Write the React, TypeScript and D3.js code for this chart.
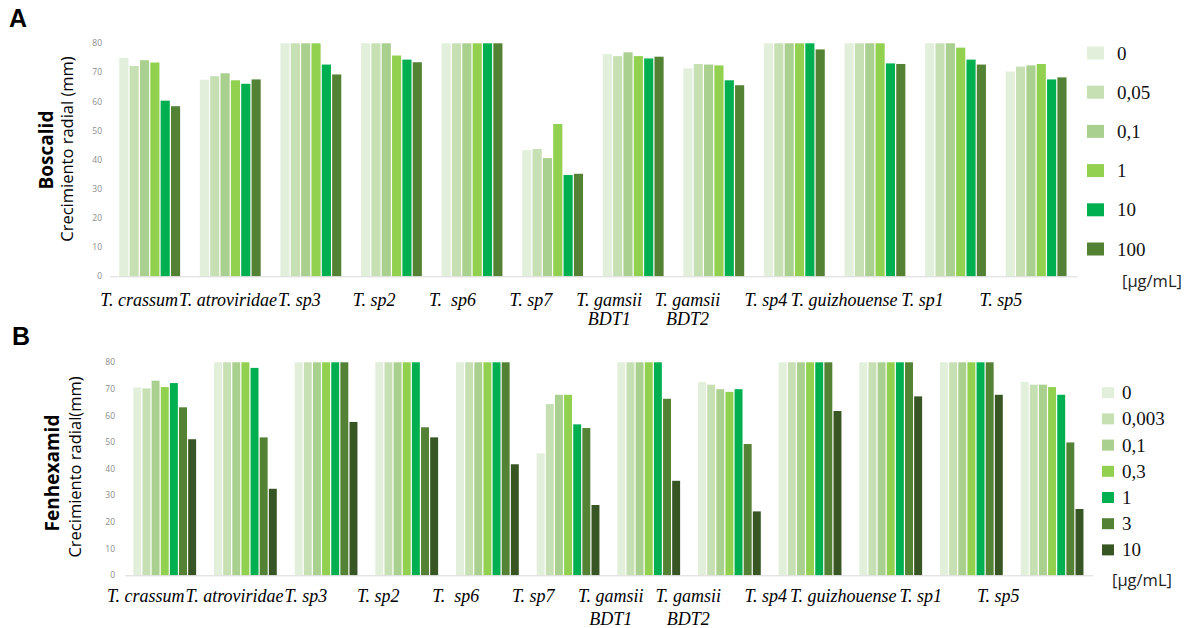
import React, { useRef, useEffect } from "react";
import * as d3 from "d3";

// strains (x categories), same for both panels
const strains = [
  "T. crassum", "T. atroviridae", "T. sp3", "T. sp2", "T.  sp6", "T. sp7",
  "T. gamsii\nBDT1", "T. gamsii\nBDT2", "T. sp4", "T. guizhouense", "T. sp1", "T. sp5",
];
const yTicks = [0, 10, 20, 30, 40, 50, 60, 70, 80];

// Boscalid doses [µg/mL]
const boscalidDoses = ["0", "0,05", "0,1", "1", "10", "100"];
const boscalidColors = ["#e2efda", "#c6e0b4", "#a9d08e", "#92d050", "#00b050", "#548235"];
const bosc0 = [75, 67.5, 80, 80, 80, 43.3, 76.3, 71.4, 80, 80, 80, 70.3];
const bosc005 = [72.2, 68.7, 80, 80, 80, 43.7, 75.6, 72.9, 80, 80, 80, 72.0];
const bosc01 = [74.2, 69.7, 80, 80, 80, 40.6, 76.9, 72.7, 80, 80, 80, 72.4];
const bosc1 = [73.4, 67.3, 80, 75.8, 80, 52.3, 75.6, 72.4, 80, 80, 78.5, 72.9];
const bosc10 = [60.3, 66.1, 72.7, 74.4, 80, 34.8, 74.8, 67.3, 80, 73.1, 74.4, 67.6];
const bosc100 = [58.4, 67.6, 69.3, 73.5, 80, 35.2, 75.4, 65.6, 77.9, 72.9, 72.7, 68.3];

// Fenhexamid doses [µg/mL]
const fenDoses = ["0", "0,003", "0,1", "0,3", "1", "3", "10"];
const fenColors = ["#e2efda", "#c6e0b4", "#a9d08e", "#92d050", "#00b050", "#548235", "#375623"];
const fen0 = [70.5, 80, 80, 80, 80, 45.8, 80, 72.6, 80, 80, 80, 72.6];
const fen0003 = [70.2, 80, 80, 80, 80, 64.3, 80, 71.6, 80, 80, 80, 71.6];
const fen01 = [73.1, 80, 80, 80, 80, 67.8, 80, 69.9, 80, 80, 80, 71.6];
const fen03 = [70.7, 80, 80, 80, 80, 67.8, 80, 68.9, 80, 80, 80, 70.7];
const fen1 = [72.2, 77.9, 80, 80, 80, 56.7, 80, 69.9, 80, 80, 80, 67.8];
const fen3 = [63.1, 51.8, 80, 55.6, 80, 55.3, 66.3, 49.3, 80, 80, 80, 49.9];
const fen10 = [51.1, 32.5, 57.6, 51.8, 41.7, 26.4, 35.5, 24.0, 61.7, 67.2, 67.8, 24.9];

const SERIF = "'Liberation Serif', 'Times New Roman', serif";
const SANS = "'Open Sans', 'DejaVu Sans', sans-serif";

function drawPanel(svg, p) {
  const g = svg.append("g");
  const x0 = d3.scaleBand().domain(strains).range([p.left, p.right])
    .paddingInner(p.pad).paddingOuter(p.pad / 2);
  const x1 = d3.scaleBand().domain(p.doses).range([0, x0.bandwidth()]);
  const y = d3.scaleLinear().domain([0, 80]).range([p.bottom, p.top]);
  const color = d3.scaleOrdinal().domain(p.doses).range(p.colors);

  // tick labels (no grid)
  g.selectAll(".tick").data(yTicks).enter().append("text")
    .attr("x", p.tickX).attr("y", d => y(d) + 3)
    .attr("text-anchor", "end")
    .style("font-family", SANS).style("font-size", "8.5px").attr("fill", "#8c8c8c")
    .text(d => d);

  // bars
  const groups = g.selectAll(".grp").data(strains).enter().append("g")
    .attr("transform", d => `translate(${x0(d)},0)`);
  groups.selectAll("rect")
    .data((d, i) => p.doses.map((dose, k) => ({ dose, v: p.series[k][i] })))
    .enter().append("rect")
    .attr("x", d => x1(d.dose))
    .attr("y", d => y(d.v))
    .attr("width", x1.bandwidth() - 1.2)
    .attr("height", d => y(0) - y(d.v))
    .attr("fill", d => color(d.dose));

  // baseline
  g.append("line").attr("x1", p.left).attr("x2", p.right)
    .attr("y1", y(0) + 0.5).attr("y2", y(0) + 0.5)
    .attr("stroke", "#d9d9d9").attr("stroke-width", 1);

  // category labels (sit a bit left of the groups, like the original)
  const xl = d3.scaleBand().domain(strains).range(p.labelRange);
  const lab = g.selectAll(".lab").data(strains).enter().append("text")
    .attr("text-anchor", "middle")
    .style("font-family", SERIF).style("font-style", "italic").style("font-size", "18px")
    .style("white-space", "pre").attr("fill", "#000");
  lab.selectAll("tspan").data(d => d.split("\n").map(t => ({ t, c: d }))).enter()
    .append("tspan")
    .attr("x", d => xl(d.c) + xl.bandwidth() / 2)
    .attr("y", (d, i) => p.labelY + i * p.lineH)
    .text(d => d.t);

  // push labels right where they would run into the previous one
  let prevRight = -Infinity;
  lab.each(function () {
    const box = this.getBBox();
    const shift = Math.max(0, prevRight + 1 - box.x);
    if (shift > 0) d3.select(this).attr("transform", `translate(${shift},0)`);
    prevRight = box.x + box.width + shift;
  });

  // legend
  const leg = g.selectAll(".leg").data(p.doses).enter().append("g")
    .attr("transform", (d, i) => `translate(0,${p.legY + i * p.legStep})`);
  leg.append("rect").attr("x", p.legX).attr("y", -p.sqH / 2)
    .attr("width", p.sqW).attr("height", p.sqH).attr("fill", d => color(d));
  leg.append("text").attr("x", p.legTextX).attr("y", 6.5)
    .style("font-family", SERIF).style("font-size", "19px").attr("fill", "#111")
    .text(d => d);
  g.append("text").attr("x", p.unitX).attr("y", p.unitY)
    .style("font-family", SANS).style("font-size", "16.5px").attr("fill", "#222")
    .text("[µg/mL]");

  // y titles
  g.append("text").attr("transform", `translate(${p.titleX},${p.titleY}) rotate(-90)`)
    .attr("text-anchor", "middle")
    .style("font-family", SANS).style("font-weight", "bold").style("font-size", "19px")
    .text(p.title);
  g.append("text").attr("transform", `translate(${p.yLabX},${p.yLabY}) rotate(-90)`)
    .attr("text-anchor", "middle")
    .style("font-family", SANS).style("font-size", "16.5px")
    .text(p.yLabel);

  g.append("text").attr("x", p.letterX).attr("y", p.letterY)
    .style("font-family", "'Liberation Sans', Arial, sans-serif")
    .style("font-weight", "bold").style("font-size", "25px")
    .text(p.letter);
}

export default function App() {
  const ref = useRef(null);

  useEffect(() => {
    const svg = d3.select(ref.current);
    svg.selectAll("*").remove();
    svg.append("rect").attr("width", 1199).attr("height", 628).attr("fill", "#fff");

    drawPanel(svg, {
      letter: "A", letterX: 9, letterY: 27,
      title: "Boscalid", titleX: 53, titleY: 150,
      yLabel: "Crecimiento radial (mm)", yLabX: 73, yLabY: 149,
      left: 110, right: 1077, top: 43.3, bottom: 276.3, pad: 0.23, tickX: 102,
      doses: boscalidDoses, colors: boscalidColors,
      series: [bosc0, bosc005, bosc01, bosc1, bosc10, bosc100],
      labelRange: [100, 1040], labelY: 306, lineH: 19,
      legX: 1087, legTextX: 1117, legY: 53, legStep: 39.2, sqW: 17, sqH: 13,
      unitX: 1122, unitY: 287,
    });

    drawPanel(svg, {
      letter: "B", letterX: 12, letterY: 345,
      title: "Fenhexamid", titleX: 59, titleY: 473,
      yLabel: "Crecimiento radial(mm)", yLabX: 81, yLabY: 467,
      left: 125, right: 1093, top: 362.3, bottom: 575.3, pad: 0.207, tickX: 115,
      doses: fenDoses, colors: fenColors,
      series: [fen0, fen0003, fen01, fen03, fen1, fen3, fen10],
      labelRange: [107, 1037], labelY: 602, lineH: 23,
      legX: 1102, legTextX: 1122, legY: 392.7, legStep: 26.2, sqW: 12, sqH: 11,
      unitX: 1112, unitY: 586,
    });
  }, []);

  return (
    <svg ref={ref} width={1199} height={628}
      style={{ position: "absolute", left: 0, top: 0, display: "block" }} />
  );
}
